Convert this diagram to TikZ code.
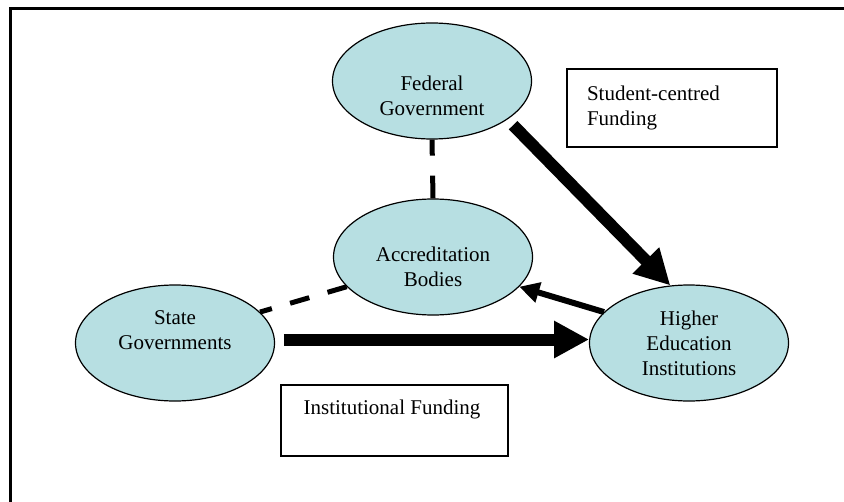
\documentclass[tikz,border=0pt]{standalone}
\usepackage{fontspec}
\setmainfont{Liberation Serif}
\usetikzlibrary{shapes.geometric,arrows.meta,calc}
\definecolor{ellfill}{RGB}{183,223,226}
\begin{document}
\begin{tikzpicture}[x=0.5pt,y=-0.5pt,
  ell/.style={ellipse,draw=black,line width=0.6pt,fill=ellfill,minimum width=99.5pt,minimum height=58pt,inner sep=0pt},
  lbl/.style={align=center,font=\fontsize{10.5}{12.5}\selectfont,inner sep=0pt},
  box/.style={draw=black,line width=0.8pt,fill=white,inner sep=0pt},
  fund/.style={line width=6pt,-{Triangle[length=17.5pt,width=17.5pt]}},
  back/.style={line width=3pt,-{Triangle[length=10pt,width=10pt]}},
  link/.style={line width=2.5pt}
]
\useasboundingbox (0,0) rectangle (844,502);
\fill[white] (0,0) rectangle (844,502);
\draw[line width=1.5pt] (10.5,502) -- (10.5,8.5) -- (844,8.5);

\node[ell, label={[lbl,yshift=-7.5pt]center:{Federal\\Government}}] (fed) at (432,81) {};
\node[ell, label={[lbl,yshift=-5pt]center:{Accreditation\\Bodies}}] (acc) at (433,257) {};
\node[ell, label={[lbl,yshift=6.5pt]center:{State\\Governments}}] (sg) at (175,343) {};
\node[ell, label={[lbl]center:{Higher\\Education\\Institutions}}] (hei) at (689,343) {};

\node[box, lbl, text width=85pt, inner xsep=10pt, minimum height=39pt, align=left] (scf) at (672,108) {Student-centred\\Funding};
\node[box, minimum width=113.5pt, minimum height=35.5pt] (inst) at (394.5,420.5) {};
\node[lbl] (instlbl) at (392,409) {Institutional Funding};

\draw[fund, shorten <=4pt] (fed.-27) -- (hei.108);
\draw[fund, shorten <=4.5pt] (sg.2) -- (hei.178);
\draw[back] (hei.160) -- (acc.-19);
\draw[link, dash pattern=on 8pt off 10pt on 12pt off 10pt] (fed.south) -- (acc.north);
\draw[link, dash pattern=on 10pt off 9.5pt] (acc.199) -- (sg.20);
\end{tikzpicture}
\end{document}
